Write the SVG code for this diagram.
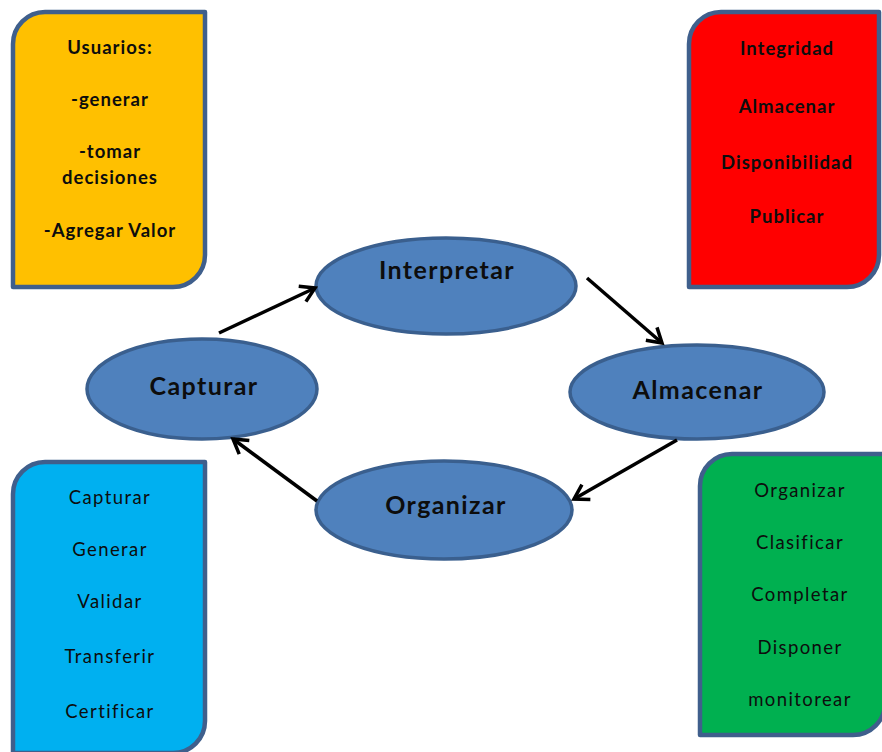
<svg xmlns="http://www.w3.org/2000/svg" width="882" height="752" viewBox="0 0 882 752">
  <style>
    .card { stroke: #3F5F8C; stroke-width: 4.5; stroke-linejoin: round; }
    .step { fill: #4F81BD; stroke: #3A5F8E; stroke-width: 3.5; }
    .t { font-family: Lato, "Open Sans", "Liberation Sans", sans-serif; fill: #0d0d0d; text-anchor: middle; }
    .b { font-weight: bold; font-size: 18.5px; letter-spacing: 1px; }
    .r { font-size: 18.5px; letter-spacing: 1.4px; }
    .big { font-weight: bold; font-size: 25px; letter-spacing: 1.4px; }
    .flow { stroke: #000; stroke-width: 3.5; fill: none; marker-end: url(#open); }
  </style>
  <defs>
    <marker id="open" markerUnits="userSpaceOnUse" markerWidth="30" markerHeight="30" viewBox="-20 -15 30 30" refX="0" refY="0" orient="auto">
      <path d="M -14 -8.5 L 0 0 L -14 8.5" fill="none" stroke="#000" stroke-width="3.5" stroke-linejoin="miter"/>
    </marker>
  </defs>
  <rect width="882" height="752" fill="#fff"/>

  <!-- side cards: round top-left and bottom-right corners -->
  <g id="usuarios">
    <path class="card" fill="#FFC000" d="M 45 12 H 205 V 255 A 32 32 0 0 1 173 287 H 13 V 44 A 32 32 0 0 1 45 12 Z"/>
    <text class="t b" x="110" y="54">Usuarios:</text>
    <text class="t b" x="110" y="106">-generar</text>
    <text class="t b" x="110" y="158">-tomar</text>
    <text class="t b" x="110" y="184">decisiones</text>
    <text class="t b" x="110" y="237">-Agregar Valor</text>
  </g>

  <g id="almacenamiento">
    <path class="card" fill="#FF0000" d="M 721 12 H 879 V 255 A 32 32 0 0 1 847 287 H 689 V 44 A 32 32 0 0 1 721 12 Z"/>
    <text class="t b" x="787" y="55">Integridad</text>
    <text class="t b" x="787" y="113">Almacenar</text>
    <text class="t b" x="787" y="169">Disponibilidad</text>
    <text class="t b" x="787" y="223">Publicar</text>
  </g>

  <g id="captura">
    <path class="card" fill="#00B0F0" d="M 45 462 H 205 V 721 A 32 32 0 0 1 173 753 H 13 V 494 A 32 32 0 0 1 45 462 Z"/>
    <text class="t r" x="110" y="504">Capturar</text>
    <text class="t r" x="110" y="556">Generar</text>
    <text class="t r" x="110" y="608">Validar</text>
    <text class="t r" x="110" y="663">Transferir</text>
    <text class="t r" x="110" y="718">Certificar</text>
  </g>

  <g id="organizacion">
    <path class="card" fill="#00B050" d="M 732 454 H 885 V 703 A 32 32 0 0 1 853 735 H 700 V 486 A 32 32 0 0 1 732 454 Z"/>
    <text class="t r" x="800" y="497">Organizar</text>
    <text class="t r" x="800" y="549">Clasificar</text>
    <text class="t r" x="800" y="601">Completar</text>
    <text class="t r" x="800" y="654">Disponer</text>
    <text class="t r" x="800" y="706">monitorear</text>
  </g>

  <!-- cycle steps -->
  <g id="interpretar">
    <ellipse class="step" cx="446" cy="286" rx="130" ry="48"/>
    <text class="t big" x="447" y="279">Interpretar</text>
  </g>
  <g id="almacenar">
    <ellipse class="step" cx="697" cy="392" rx="127" ry="47"/>
    <text class="t big" x="698" y="399">Almacenar</text>
  </g>
  <g id="organizar">
    <ellipse class="step" cx="444" cy="510" rx="128" ry="49"/>
    <text class="t big" x="446" y="514">Organizar</text>
  </g>
  <g id="capturar">
    <ellipse class="step" cx="202" cy="389" rx="115" ry="50"/>
    <text class="t big" x="204" y="395">Capturar</text>
  </g>

  <g id="connectors">
    <line class="flow" x1="219" y1="333" x2="315" y2="288"/>
    <line class="flow" x1="587" y1="278" x2="662" y2="343"/>
    <line class="flow" x1="677" y1="440" x2="574" y2="499"/>
    <line class="flow" x1="317" y1="501" x2="233" y2="439"/>
  </g>
</svg>
